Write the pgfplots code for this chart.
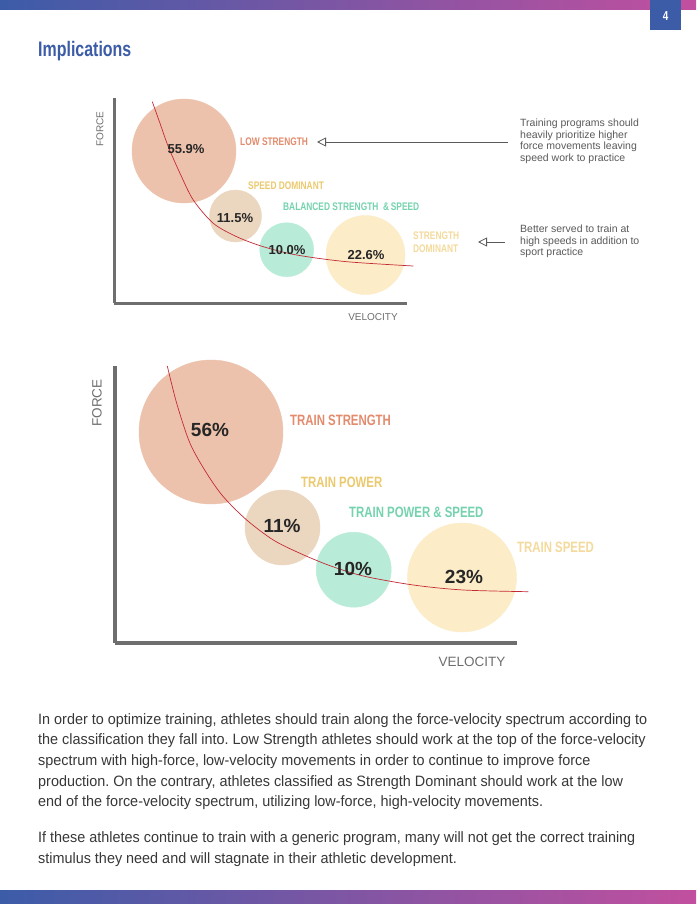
\documentclass[border=0pt]{standalone}
\usepackage{pgfplots}
\pgfplotsset{compat=1.18}
\usepackage{fontspec}
\setmainfont{Liberation Sans}
\newfontfamily\condfont[FakeStretch=0.76]{Liberation Sans}
\newfontfamily\bodyfont[FakeStretch=0.96]{Liberation Sans}
\usetikzlibrary{arrows.meta}
\frenchspacing

\definecolor{hdrblue}{HTML}{3C5CA8}
\definecolor{hdrpink}{HTML}{C24F9F}
\definecolor{bsalmon}{HTML}{EDC2AC}
\definecolor{btan}{HTML}{EBD6BF}
\definecolor{bmint}{HTML}{B8ECD8}
\definecolor{bcream}{HTML}{FCEDC8}
\definecolor{lsalmon}{HTML}{E38B6C}
\definecolor{lyellow}{HTML}{EBC96E}
\definecolor{lmint}{HTML}{74D3AE}
\definecolor{lcream}{HTML}{F4DA9C}
\definecolor{curvered}{HTML}{C42A35}
\definecolor{axisgray}{HTML}{6E6E6E}
\definecolor{notegray}{HTML}{5A5A5A}
\definecolor{bodygray}{HTML}{383838}

\pgfplotsset{bubblechart/.style={
  anchor=south west, x=1pt, y=1pt,
  axis x line*=bottom, axis y line*=left, ticks=none,
  clip=false, clip marker paths=true}}

\begin{document}
\begin{tikzpicture}[x=1pt,y=1pt]
\useasboundingbox (0,0) rectangle (696,-904);
\fill[white] (0,0) rectangle (696,-904);

% header / footer bars
\shade[left color=hdrblue, right color=hdrpink] (0,0) rectangle (696,-10);
\shade[left color=hdrblue, right color=hdrpink] (0,-890) rectangle (696,-904);
\fill[hdrblue] (650,0) rectangle (681,-30);
\node[text=white, font=\condfont\bfseries\fontsize{13}{13}\selectfont] at (665.5,-16) {4};
\node[anchor=base west, inner sep=0, text=hdrblue, font=\condfont\bfseries\fontsize{21}{21}\selectfont] at (38,-57) {Implications};

% ---------- chart 1 ----------
\begin{axis}[bubblechart,
  at={(114,-303)},
  xmin=114, xmax=407, ymin=-303, ymax=-98,
  axis line style={-, line width=3pt, draw=axisgray},
]
\addplot[only marks, mark=*, mark size=52pt, color=bsalmon] coordinates {(184,-151)};
\addplot[only marks, mark=*, mark size=26pt, color=btan] coordinates {(235.5,-216)};
\addplot[only marks, mark=*, mark size=27pt, color=bmint] coordinates {(286.7,-249.7)};
\addplot[only marks, mark=*, mark size=39.5pt, color=bcream] coordinates {(365.5,-255)};
\addplot[smooth, no marks, color=curvered, line width=0.7pt] coordinates {
  (152.3,-101.7) (160,-123.3) (168.3,-146.7) (180,-173.3) (193.3,-200)
  (213.3,-223.3) (236.7,-236.7) (263.3,-246.7) (296.7,-255) (346.7,-261.7) (413.3,-266)};
\end{axis}

\begin{scope}[every node/.style={inner sep=0}]
\node[font=\bfseries\fontsize{13}{13}\selectfont, text=black!85] at (186,-149) {55.9\%};
\node[font=\bfseries\fontsize{13}{13}\selectfont, text=black!85] at (235,-218) {11.5\%};
\node[font=\bfseries\fontsize{13}{13}\selectfont, text=black!85] at (287,-250) {10.0\%};
\node[font=\bfseries\fontsize{13}{13}\selectfont, text=black!85] at (366,-255) {22.6\%};
\node[font=\condfont\bfseries\fontsize{11}{11}\selectfont, text=lsalmon, anchor=west] at (240,-142) {LOW STRENGTH};
\node[font=\condfont\bfseries\fontsize{11}{11}\selectfont, text=lyellow, anchor=west] at (248,-186) {SPEED DOMINANT};
\node[font=\condfont\bfseries\fontsize{11}{11}\selectfont, text=lmint, anchor=west] at (283,-207) {BALANCED STRENGTH \ \&\,SPEED};
\node[font=\condfont\bfseries\fontsize{11}{13}\selectfont, text=lcream, align=left, anchor=west] at (413,-242.5) {STRENGTH\\DOMINANT};
\node[font=\fontsize{10}{10}\selectfont, text=axisgray, rotate=90] at (100,-129) {FORCE};
\node[font=\fontsize{10}{10}\selectfont, text=axisgray] at (373,-317) {VELOCITY};
\node[font=\fontsize{10.5}{11.5}\selectfont, text=notegray, align=left, anchor=north west] at (520,-119) {Training programs should\\heavily prioritize higher\\force movements leaving\\speed work to practice};
\node[font=\fontsize{10.5}{11.5}\selectfont, text=notegray, align=left, anchor=north west] at (520,-225) {Better served to train at\\high speeds in addition to\\sport practice};
\end{scope}
\draw[notegray, line width=0.8pt, {Triangle[open, length=9pt, width=9pt]}-] (317,-142) -- (508,-142);
\draw[notegray, line width=0.8pt, {Triangle[open, length=9pt, width=9pt]}-] (478,-242) -- (505,-242);

% ---------- chart 2 ----------
\begin{axis}[bubblechart,
  at={(115,-643)},
  xmin=115, xmax=517, ymin=-643, ymax=-366,
  axis line style={-, line width=4pt, draw=axisgray},
]
\addplot[only marks, mark=*, mark size=72pt, color=bsalmon] coordinates {(211,-432)};
\addplot[only marks, mark=*, mark size=37.5pt, color=btan] coordinates {(282.5,-527.5)};
\addplot[only marks, mark=*, mark size=37.5pt, color=bmint] coordinates {(353.7,-569.7)};
\addplot[only marks, mark=*, mark size=54.5pt, color=bcream] coordinates {(462,-577.5)};
\addplot[smooth, no marks, color=curvered, line width=0.7pt] coordinates {
  (167.3,-366) (176.7,-403.3) (190,-443.3) (206.7,-473.3) (223.3,-496.7)
  (246.7,-520) (273.3,-540) (300,-553.3) (330,-565.7) (363.3,-576)
  (413.3,-585) (463.3,-590) (528.3,-591.7)};
\end{axis}

\begin{scope}[every node/.style={inner sep=0}]
\node[font=\bfseries\fontsize{19}{19}\selectfont, text=black!85] at (210,-430) {56\%};
\node[font=\bfseries\fontsize{19}{19}\selectfont, text=black!85] at (282,-526) {11\%};
\node[font=\bfseries\fontsize{19}{19}\selectfont, text=black!85] at (353,-569) {10\%};
\node[font=\bfseries\fontsize{19}{19}\selectfont, text=black!85] at (464,-577) {23\%};
\node[font=\condfont\bfseries\fontsize{15}{15}\selectfont, text=lsalmon, anchor=west] at (290,-420) {TRAIN STRENGTH};
\node[font=\condfont\bfseries\fontsize{15}{15}\selectfont, text=lyellow, anchor=west] at (301,-482) {TRAIN POWER};
\node[font=\condfont\bfseries\fontsize{15}{15}\selectfont, text=lmint, anchor=west] at (349,-512) {TRAIN POWER \& SPEED};
\node[font=\condfont\bfseries\fontsize{15}{15}\selectfont, text=lcream, anchor=west] at (517,-547) {TRAIN SPEED};
\node[font=\fontsize{13.5}{13.5}\selectfont, text=axisgray, rotate=90] at (97,-403) {FORCE};
\node[font=\fontsize{13.5}{13.5}\selectfont, text=axisgray] at (472,-662) {VELOCITY};
\end{scope}

% ---------- body text ----------
\begin{scope}[every node/.style={inner sep=0, anchor=base west, text=bodygray, font=\bodyfont\fontsize{15}{15}\selectfont}]
\node at (38,-724) {In order to optimize training, athletes should train along the force-velocity spectrum according to};
\node at (38,-744.7) {the classification they fall into. Low Strength athletes should work at the top of the force-velocity};
\node at (38,-765.4) {spectrum with high-force, low-velocity movements in order to continue to improve force};
\node at (38,-786.1) {production. On the contrary, athletes classified as Strength Dominant should work at the low};
\node at (38,-806.8) {end of the force-velocity spectrum, utilizing low-force, high-velocity movements.};
\node at (38,-842.5) {If these athletes continue to train with a generic program, many will not get the correct training};
\node at (38,-863.2) {stimulus they need and will stagnate in their athletic development.};
\end{scope}
\end{tikzpicture}
\end{document}
